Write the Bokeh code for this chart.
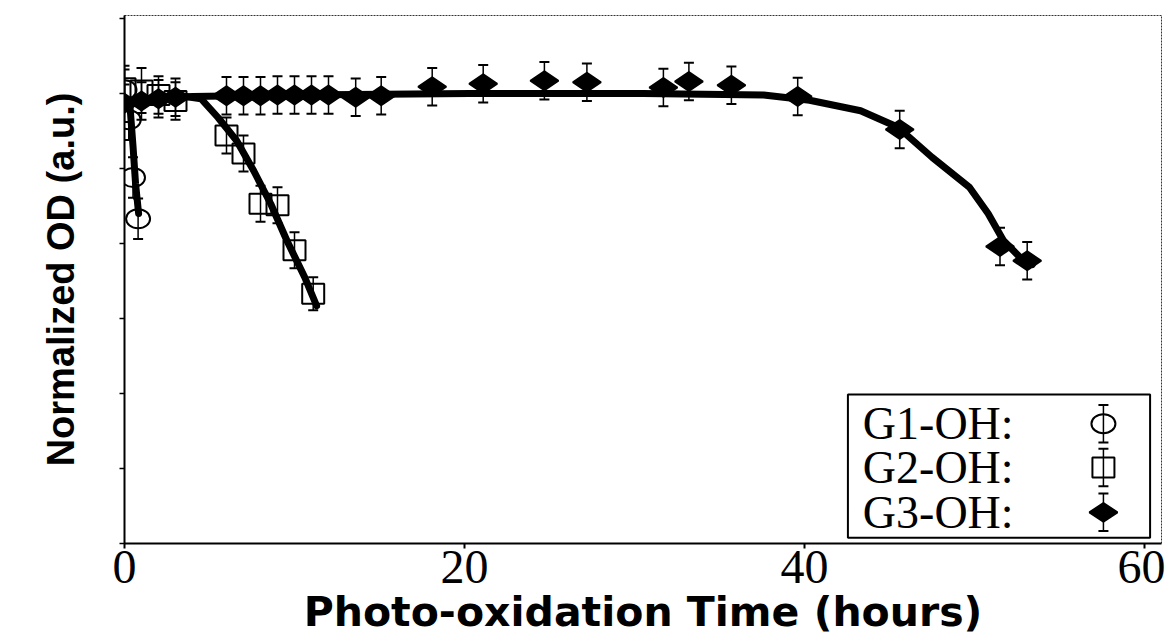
import math
from bokeh.plotting import figure
from bokeh.models import FixedTicker, Range1d
from bokeh.embed import file_html
from bokeh.resources import INLINE
from bokeh.core.properties import value

# ---------------- data ----------------
g1_time = [0.0, 0.25, 0.5, 0.8]
g1_od = [1.005, 0.965, 0.888, 0.833]
g1_err = [0.027, 0.027, 0.027, 0.027]
g1_fit_time = [0.0, 0.3, 0.5, 0.65, 0.83]
g1_fit_od = [0.99, 0.99, 0.93, 0.88, 0.84]

g2_time = [0, 1, 2, 3, 6, 7, 8, 9, 10, 11.1]
g2_od = [1.007, 1.004, 0.998, 0.990, 0.944, 0.920, 0.853, 0.851, 0.791, 0.733]
g2_err = [0.030, 0.030, 0.025, 0.025, 0.024, 0.024, 0.024, 0.024, 0.024, 0.022]
g2_fit_time = [0, 3.3, 4.5, 5.5, 6.6, 7.6, 8.6, 9.55, 10.6, 11.3]
g2_fit_od = [0.99, 0.997, 0.993, 0.968, 0.937, 0.897, 0.853, 0.804, 0.755, 0.717]

g3_time = [0, 1, 2, 3, 6, 7, 8, 9, 10, 11, 12, 13.6, 15.1, 18.1, 21.1, 24.7,
           27.2, 31.7, 33.2, 35.7, 39.6, 45.6, 51.5, 53.1]
g3_od = [0.987, 0.990, 0.993, 0.995, 0.997, 0.997, 0.997, 0.998, 0.998, 0.998,
         0.998, 0.995, 0.997, 1.009, 1.013, 1.017, 1.015, 1.008, 1.016, 1.011,
         0.996, 0.952, 0.796, 0.777]
g3_err = [0.025] * len(g3_time)
g3_fit_time = [0, 2, 4, 10, 20.3, 30.5, 37.6, 40.3, 43.3, 45.5, 47.5, 49.7, 50.8, 51.7, 52.7, 53.4]
g3_fit_od = [0.99, 0.993, 0.996, 0.998, 1.0, 1.0, 0.998, 0.991, 0.977, 0.955,
             0.915, 0.875, 0.84, 0.804, 0.781, 0.772]

x_ticks = [0, 20, 40, 60]
y_ticks = [0.4, 0.5, 0.6, 0.7, 0.8, 0.9, 1.0, 1.1]
legend_labels = ["G1-OH:", "G2-OH:", "G3-OH:"]
legend_err = 0.025

X0, X1 = 0.0, 61.0
Y0, Y1 = 0.4, 1.104

# ---------------- figure ----------------
p = figure(width=1165, height=638, output_backend="svg", toolbar_location=None,
           x_range=Range1d(X0, X1), y_range=Range1d(Y0, Y1),
           min_border_left=124, min_border_right=4, min_border_top=15, min_border_bottom=95)
p.grid.visible = False
p.background_fill_color = "white"
p.border_fill_color = "white"
p.outline_line_color = "#333333"
p.outline_line_width = 1
p.outline_line_dash = "2 1"

ax = p.xaxis[0]
ax.ticker = FixedTicker(ticks=x_ticks)
ax.axis_label = "Photo-oxidation Time (hours)"
ax.axis_label_text_font = "DejaVu Sans"
ax.axis_label_text_font_style = "bold"
ax.axis_label_text_font_size = "41px"
ax.axis_label_text_color = "black"
ax.major_label_text_font = "Liberation Serif"
ax.major_label_text_font_size = "48px"
ax.major_label_text_color = "black"
ax.major_label_standoff = 2
ax.axis_label_standoff = 2
ax.axis_line_width = 2
ax.major_tick_out = 5
ax.major_tick_in = 0
ax.major_tick_line_width = 2
ax.minor_tick_line_color = None

ay = p.yaxis[0]
ay.ticker = FixedTicker(ticks=y_ticks)
ay.axis_label = "Normalized OD (a.u.)"
ay.axis_label_text_font = "Liberation Sans"
ay.axis_label_text_font_style = "bold"
ay.axis_label_text_font_size = "38px"
ay.axis_label_text_color = "black"
ay.major_label_text_font_size = "1px"
ay.major_label_text_color = None
ay.major_label_standoff = 0
ay.axis_label_standoff = 38
ay.axis_line_width = 2
ay.major_tick_out = 5
ay.major_tick_in = 0
ay.major_tick_line_width = 1.5
ay.minor_tick_line_color = None


def errorbars(t, v, e):
    lo = [a - b for a, b in zip(v, e)]
    hi = [a + b for a, b in zip(v, e)]
    p.segment(x0=t, y0=lo, x1=t, y1=hi, line_color="black", line_width=1.5)
    p.scatter(t, hi, marker="dash", size=10, line_color="black", line_width=2)
    p.scatter(t, lo, marker="dash", size=10, line_color="black", line_width=2)


def circles(t, v):
    p.ellipse(t, v, width=24, height=19, width_units="screen", height_units="screen",
              fill_color=None, line_color="black", line_width=2)


def squares(t, v):
    p.rect(t, v, width=22, height=20, width_units="screen", height_units="screen",
           fill_color=None, line_color="black", line_width=2)


def diamonds(t, v):
    p.scatter(t, v, marker="diamond", size=28, angle=math.pi / 2,
              fill_color="black", line_color="black", line_width=2)


# data error bars & markers
errorbars(g1_time, g1_od, g1_err)
errorbars(g2_time, g2_od, g2_err)
errorbars(g3_time, g3_od, g3_err)
circles(g1_time, g1_od)
squares(g2_time, g2_od)

# fitted curves
for ft, fv in [(g1_fit_time, g1_fit_od), (g2_fit_time, g2_fit_od), (g3_fit_time, g3_fit_od)]:
    p.line(ft, fv, line_color="black", line_width=7, line_join="round", line_cap="round")

diamonds(g3_time, g3_od)

# ---------------- legend (positions as fractions of the plot frame) ----------------
def fx(f):
    return X0 + f * (X1 - X0)


def fy(f):
    return Y0 + f * (Y1 - Y0)


p.quad(left=[fx(0.6976)], right=[fx(0.989)], bottom=[fy(0.011)], top=[fy(0.282)],
       fill_color="white", line_color="black", line_width=2)

gx = fx(0.944)
row_glyph = [fy(0.227), fy(0.144), fy(0.059)]

errorbars([gx] * 3, row_glyph, [legend_err] * 3)
circles([gx], [row_glyph[0]])
squares([gx], [row_glyph[1]])
diamonds([gx], [row_glyph[2]])

p.text(x=[fx(0.712)] * 3, y=row_glyph, text=legend_labels,
       text_font=value("Liberation Serif"), text_font_size="46px",
       text_color="black", text_baseline="middle", text_align="left")

open("out.html", "w").write(file_html(p, INLINE))
